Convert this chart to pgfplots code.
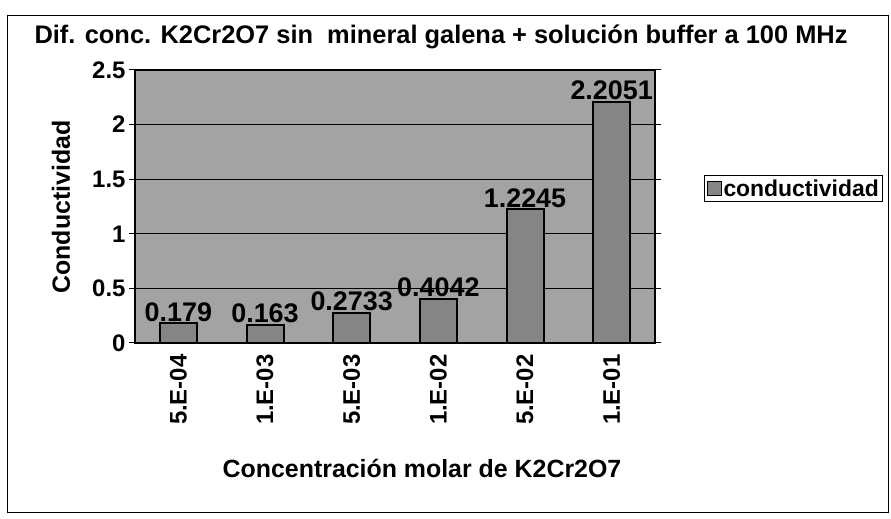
\documentclass[border=0pt]{standalone}
\usepackage{fontspec}
\setmainfont{Liberation Sans}
\usepackage{pgfplots}
\pgfplotsset{compat=1.18}
\begin{document}
\begin{tikzpicture}[x=1bp,y=1bp]
\useasboundingbox (0,0) rectangle (891,519);
\draw[line width=1bp] (7,6) rectangle (888,503);
\node[font=\fontsize{25.5}{30}\selectfont\bfseries] at (441,482) {Dif. conc. K2Cr2O7 sin\ \ mineral galena + solución buffer a 100 MHz};
\node[font=\fontsize{25}{30}\selectfont\bfseries] at (422,51) {Concentración molar de K2Cr2O7};
\node[font=\fontsize{25}{30}\selectfont\bfseries, rotate=90] at (61,312) {Conductividad};
\begin{axis}[
  at={(135bp,176bp)}, anchor=south west, scale only axis,
  width=520bp, height=273bp,
  ymin=0, ymax=2.5, ytick={0,0.5,1,1.5,2,2.5},
  yticklabels={0,0.5,1,1.5,2,2.5},
  ymajorgrids, grid style={black, line width=0.9bp},
  xmin=-0.5, xmax=5.5, xtick={0,1,2,3,4,5},
  xticklabels={5.E-04,1.E-03,5.E-03,1.E-02,5.E-02,1.E-01},
  x tick label style={rotate=90, anchor=east, xshift=-2bp},
  major x tick style={draw=none},
  extra x ticks={-0.5,0.5,1.5,2.5,3.5,4.5,5.5},
  extra x tick labels={},
  extra x tick style={major tick length=4bp, tick style={black, line width=1bp}, grid=none},
  tick align=outside,
  major tick length=6bp,
  ytick style={black, line width=1bp},
  axis line style={black, line width=1.6bp},
  axis background/.style={fill=black!36},
  tick label style={font=\fontsize{24}{28}\selectfont\bfseries},
  /pgf/number format/assume math mode=true,
  ybar, bar width=37bp,
  nodes near coords,
  point meta=explicit symbolic,
  every node near coord/.append style={font=\fontsize{27}{30}\selectfont\bfseries, black, inner sep=1bp},
  clip=false,
  legend style={at={(1,0.566)}, anchor=west, xshift=49bp, draw=black, line width=1bp,
    font=\fontsize{23}{27}\selectfont\bfseries, inner sep=2bp},
  legend image code/.code={\draw[#1, line width=1bp] (0bp,-7bp) rectangle (14bp,7bp);},
]
\addplot[draw=black, line width=2bp, fill=black!48] coordinates {
  (0,0.179) [0.179]
  (1,0.163) [0.163]
  (2,0.2733) [0.2733]
  (3,0.4042) [0.4042]
  (4,1.2245) [1.2245]
  (5,2.2051) [2.2051]
};
\addlegendentry{conductividad}
\end{axis}
\end{tikzpicture}
\end{document}
